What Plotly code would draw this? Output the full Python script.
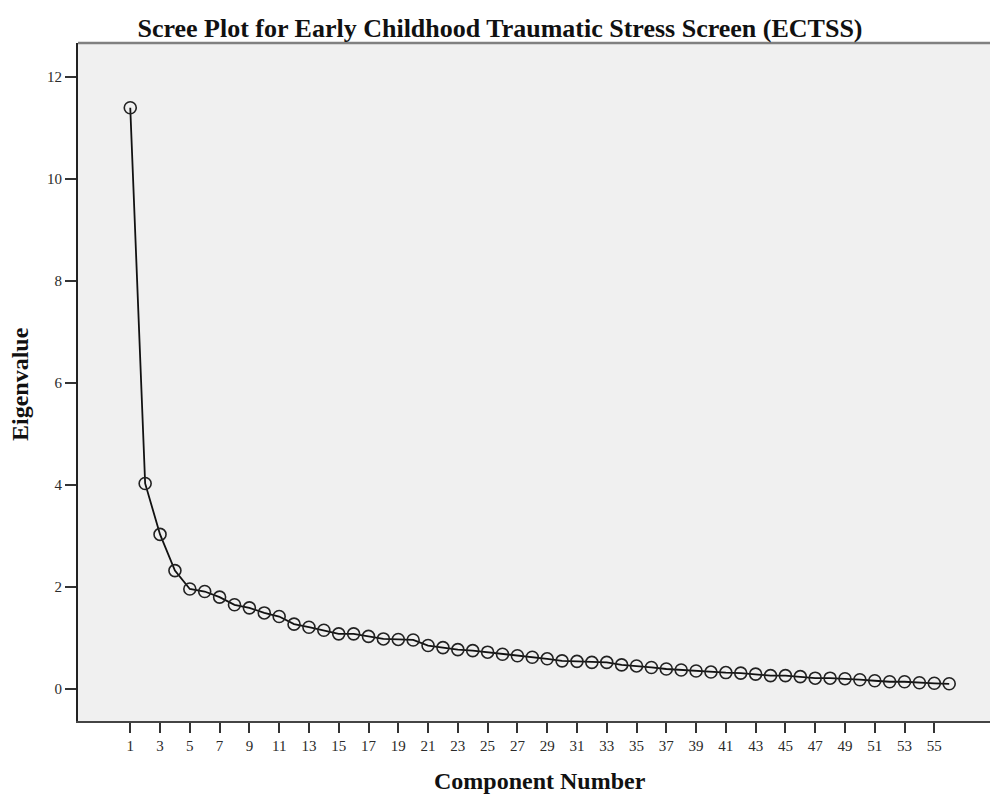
import plotly.graph_objects as go

components = list(range(1, 57))
eigenvalues = [
    11.40, 4.03, 3.03, 2.32, 1.96, 1.91, 1.80, 1.65, 1.59, 1.49,
    1.42, 1.27, 1.21, 1.15, 1.08, 1.08, 1.03, 0.98, 0.97, 0.96,
    0.85, 0.81, 0.77, 0.75, 0.72, 0.68, 0.65, 0.62, 0.59, 0.55,
    0.54, 0.52, 0.52, 0.47, 0.45, 0.42, 0.39, 0.37, 0.35, 0.33,
    0.32, 0.31, 0.29, 0.26, 0.26, 0.24, 0.21, 0.21, 0.20, 0.18,
    0.16, 0.14, 0.14, 0.12, 0.11, 0.10,
]
x_ticks = list(range(1, 56, 2))
y_ticks = [0, 2, 4, 6, 8, 10, 12]

title_text = "Scree Plot for Early Childhood Traumatic Stress Screen (ECTSS)"
x_title = "Component Number"
y_title = "Eigenvalue"

serif = "Liberation Serif, Times New Roman, serif"

fig = go.Figure()
fig.add_trace(go.Scatter(
    x=components, y=eigenvalues, mode="lines+markers",
    line=dict(color="#111111", width=1.8),
    marker=dict(symbol="circle-open", size=12, color="#222222",
                line=dict(width=1.6, color="#222222")),
    showlegend=False, hoverinfo="x+y",
))

fig.update_layout(
    width=990, height=795,
    margin=dict(l=78, r=0, t=43, b=74),
    paper_bgcolor="white",
    plot_bgcolor="#f0f0f0",
    title=dict(text="<b>" + title_text + "</b>", xref="paper", x=0.4627,
               xanchor="center", y=0.9648, yanchor="middle",
               font=dict(family=serif, size=26, color="#111111")),
    xaxis=dict(
        range=[-2.51, 58.74], tickmode="array", tickvals=x_ticks,
        ticktext=[str(v) for v in x_ticks],
        showgrid=False, zeroline=False, showline=True, linecolor="#444444",
        linewidth=2, ticks="outside", ticklen=10, tickwidth=2, tickcolor="#333333",
        tickfont=dict(family=serif, size=15, color="#2a2a2a"),
    ),
    yaxis=dict(
        range=[-0.63, 12.67], tickmode="array", tickvals=y_ticks,
        showgrid=False, zeroline=False, showline=True, linecolor="#222222",
        linewidth=2, ticks="outside", ticklen=11, tickwidth=2, tickcolor="#333333",
        tickfont=dict(family=serif, size=15, color="#2a2a2a"),
    ),
    shapes=[dict(type="line", xref="paper", yref="paper", x0=0, x1=1, y0=1, y1=1,
                 line=dict(color="#808080", width=2.5))],
    annotations=[
        dict(text="<b>" + x_title + "</b>", xref="paper", yref="paper",
             x=0.5066, y=0, yshift=-60, xanchor="center", yanchor="middle",
             showarrow=False, font=dict(family=serif, size=24, color="#111111")),
        dict(text="<b>" + y_title + "</b>", xref="paper", yref="paper",
             x=0, xshift=-58, y=0.497, xanchor="center", yanchor="middle",
             textangle=-90, showarrow=False,
             font=dict(family=serif, size=24, color="#111111")),
    ],
)

fig.write_html(
    "out.html",
    config={"displayModeBar": False},
    post_script="document.body.style.margin='0';document.body.style.overflow='hidden';",
)
